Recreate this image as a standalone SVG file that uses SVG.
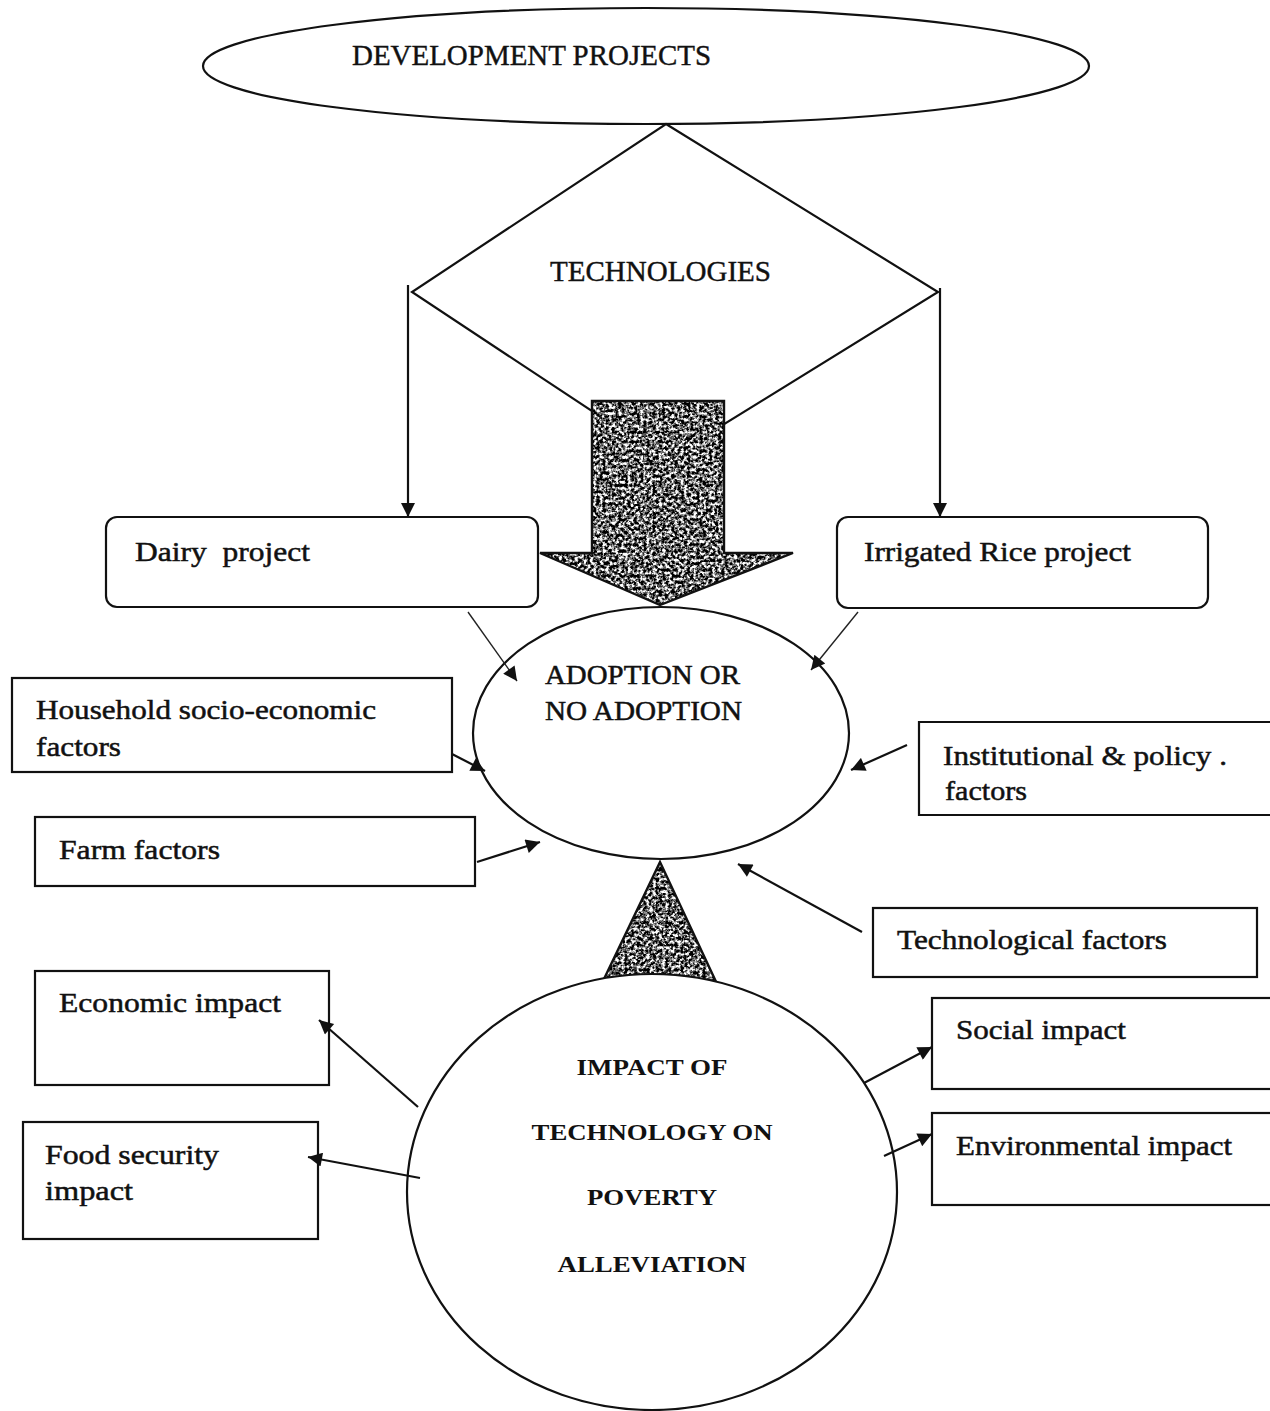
<svg xmlns="http://www.w3.org/2000/svg" width="1270" height="1411" viewBox="0 0 1270 1411">
<style>
  .shape { fill: #ffffff; stroke: #111; stroke-width: 2.2; }
  .box { fill: #ffffff; stroke: #111; stroke-width: 2.2; }
  .lbl { font-family: "Liberation Serif", "Times New Roman", serif; font-size: 28px; fill: #111; stroke: #111; stroke-width: 0.5; }
  .cap { font-family: "Liberation Serif", "Times New Roman", serif; font-size: 30px; fill: #111; stroke: #111; stroke-width: 0.4; }
  .imp { font-family: "Liberation Serif", "Times New Roman", serif; font-size: 24px; font-weight: bold; fill: #111; }
  .con { fill: none; stroke: #111; stroke-width: 2.2; }
  .thin { fill: none; stroke: #222; stroke-width: 1.4; }
  .tex { fill: #000; filter: url(#speckle); }
  .outline { fill: none; stroke: #111; stroke-width: 2.4; }
</style>
<defs>
  <marker id="ah" viewBox="0 0 10 10" refX="10" refY="5" markerWidth="17" markerHeight="14" markerUnits="userSpaceOnUse" orient="auto">
    <path d="M0,0 L10,5 L0,10 z" fill="#111"/>
  </marker>
  <filter id="speckle" x="0" y="0" width="1" height="1" color-interpolation-filters="sRGB">
    <feTurbulence type="fractalNoise" baseFrequency="0.32" numOctaves="3" seed="11" result="noise"/>
    <feColorMatrix in="noise" type="matrix" values="3.4 0 0 0 -1.3  3.4 0 0 0 -1.3  3.4 0 0 0 -1.3  0 0 0 0 1" result="gray"/>
    <feComposite in="gray" in2="SourceGraphic" operator="in"/>
  </filter>
</defs>
<rect width="1270" height="1411" fill="#ffffff"/>

<g id="development-projects">
  <ellipse class="shape" cx="646" cy="66" rx="443" ry="58"/>
  <text class="cap" x="352" y="65" textLength="359" lengthAdjust="spacingAndGlyphs">DEVELOPMENT PROJECTS</text>
</g>

<g id="technologies">
  <polygon class="shape" points="666,124 938,292 666,460 412,292"/>
  <text class="cap" x="550" y="281" textLength="221" lengthAdjust="spacingAndGlyphs">TECHNOLOGIES</text>
</g>

<g id="big-arrow">
  <polygon class="tex" points="592,401 724,401 724,553 793,553 660,605 540,553 592,553"/>
  <polygon class="outline" points="592,401 724,401 724,553 793,553 660,605 540,553 592,553"/>
</g>

<g id="dairy-project">
  <rect class="box" x="106" y="517" width="432" height="90" rx="11"/>
  <text class="lbl" x="135" y="561" textLength="175" lengthAdjust="spacingAndGlyphs" xml:space="preserve">Dairy  project</text>
</g>

<g id="irrigated-rice-project">
  <rect class="box" x="837" y="517" width="371" height="91" rx="11"/>
  <text class="lbl" x="864" y="561" textLength="267" lengthAdjust="spacingAndGlyphs">Irrigated Rice project</text>
</g>

<g id="adoption">
  <ellipse class="shape" cx="661" cy="733" rx="188" ry="126"/>
  <text class="lbl" x="545" y="684" textLength="195" lengthAdjust="spacingAndGlyphs">ADOPTION OR</text>
  <text class="lbl" x="545" y="720" textLength="197" lengthAdjust="spacingAndGlyphs">NO ADOPTION</text>
</g>

<g id="household-factors">
  <rect class="box" x="12" y="678" width="440" height="94"/>
  <text class="lbl" x="36" y="719" textLength="340" lengthAdjust="spacingAndGlyphs">Household socio-economic</text>
  <text class="lbl" x="36" y="756" textLength="85" lengthAdjust="spacingAndGlyphs">factors</text>
</g>

<g id="farm-factors">
  <rect class="box" x="35" y="817" width="440" height="69"/>
  <text class="lbl" x="59" y="859" textLength="161" lengthAdjust="spacingAndGlyphs">Farm factors</text>
</g>

<g id="institutional-factors">
  <path class="box" d="M1272,722 H919 V815 H1272"/>
  <text class="lbl" x="943" y="765" textLength="284" lengthAdjust="spacingAndGlyphs">Institutional &amp; policy .</text>
  <text class="lbl" x="945" y="800" textLength="82" lengthAdjust="spacingAndGlyphs">factors</text>
</g>

<g id="technological-factors">
  <rect class="box" x="873" y="908" width="384" height="69"/>
  <text class="lbl" x="897" y="949" textLength="270" lengthAdjust="spacingAndGlyphs">Technological factors</text>
</g>

<g id="triangle">
  <polygon class="tex" points="660,862 718,986 604,979"/>
  <polyline class="outline" points="604,979 660,862 718,986"/>
</g>

<g id="impact">
  <ellipse class="shape" cx="652" cy="1192" rx="245" ry="218"/>
  <text class="imp" x="652" y="1075" text-anchor="middle" textLength="151" lengthAdjust="spacingAndGlyphs">IMPACT OF</text>
  <text class="imp" x="652" y="1140" text-anchor="middle" textLength="241" lengthAdjust="spacingAndGlyphs">TECHNOLOGY ON</text>
  <text class="imp" x="652" y="1205" text-anchor="middle" textLength="130" lengthAdjust="spacingAndGlyphs">POVERTY</text>
  <text class="imp" x="652" y="1272" text-anchor="middle" textLength="189" lengthAdjust="spacingAndGlyphs">ALLEVIATION</text>
</g>

<g id="economic-impact">
  <rect class="box" x="35" y="971" width="294" height="114"/>
  <text class="lbl" x="59" y="1012" textLength="222" lengthAdjust="spacingAndGlyphs">Economic impact</text>
</g>

<g id="food-security-impact">
  <rect class="box" x="23" y="1122" width="295" height="117"/>
  <text class="lbl" x="45" y="1164" textLength="174" lengthAdjust="spacingAndGlyphs">Food security</text>
  <text class="lbl" x="45" y="1200" textLength="88" lengthAdjust="spacingAndGlyphs">impact</text>
</g>

<g id="social-impact">
  <rect class="box" x="932" y="998" width="345" height="91"/>
  <text class="lbl" x="956" y="1039" textLength="170" lengthAdjust="spacingAndGlyphs">Social impact</text>
</g>

<g id="environmental-impact">
  <rect class="box" x="932" y="1113" width="345" height="92"/>
  <text class="lbl" x="956" y="1155" textLength="276" lengthAdjust="spacingAndGlyphs">Environmental impact</text>
</g>

<g id="connectors">
  <line class="con" x1="408" y1="285" x2="408" y2="517" marker-end="url(#ah)"/>
  <line class="con" x1="940" y1="288" x2="940" y2="517" marker-end="url(#ah)"/>
  <line class="thin" x1="468" y1="612" x2="517" y2="681" marker-end="url(#ah)"/>
  <line class="thin" x1="858" y1="612" x2="811" y2="670" marker-end="url(#ah)"/>
  <line class="con" x1="452" y1="754" x2="485" y2="771" marker-end="url(#ah)"/>
  <line class="con" x1="477" y1="862" x2="540" y2="842" marker-end="url(#ah)"/>
  <line class="con" x1="907" y1="745" x2="851" y2="770" marker-end="url(#ah)"/>
  <line class="con" x1="862" y1="932" x2="738" y2="864" marker-end="url(#ah)"/>
  <line class="con" x1="418" y1="1107" x2="319" y2="1020" marker-end="url(#ah)"/>
  <line class="con" x1="420" y1="1178" x2="308" y2="1157" marker-end="url(#ah)"/>
  <line class="con" x1="864" y1="1083" x2="932" y2="1047" marker-end="url(#ah)"/>
  <line class="con" x1="884" y1="1156" x2="932" y2="1134" marker-end="url(#ah)"/>
</g>
</svg>
